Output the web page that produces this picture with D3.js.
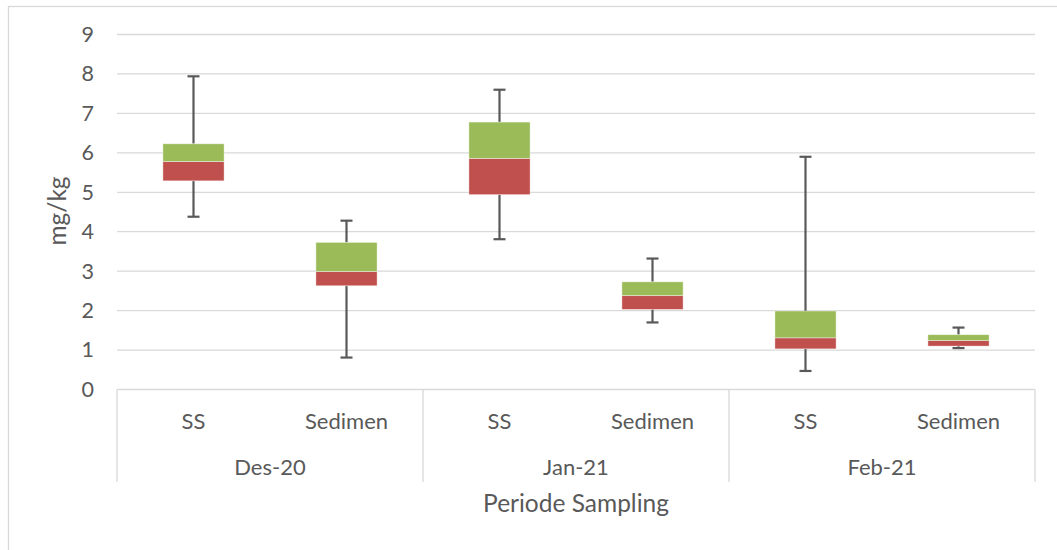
<!DOCTYPE html>
<html>
<head>
<meta charset="utf-8">
<script src="https://cdn.jsdelivr.net/npm/d3@7"></script>
<style>
  html, body { margin: 0; padding: 0; background: #fff; }
  svg { display: block; }
  text { font-family: Lato, "Open Sans", sans-serif; fill: #595959; }
</style>
</head>
<body>
<svg id="chart" width="1057" height="550"></svg>
<script>
// ---- data ----
const periods = ["Des-20", "Jan-21", "Feb-21"];
const types = ["SS", "Sedimen"];
// order: Des-20 SS, Des-20 Sedimen, Jan-21 SS, Jan-21 Sedimen, Feb-21 SS, Feb-21 Sedimen
const whiskerMin = [4.38, 0.81, 3.81, 1.70, 0.47, 1.05];
const q1         = [5.29, 2.63, 4.94, 2.03, 1.03, 1.10];
const median     = [5.78, 2.99, 5.86, 2.38, 1.31, 1.24];
const q3         = [6.23, 3.73, 6.78, 2.73, 1.99, 1.39];
const whiskerMax = [7.94, 4.28, 7.60, 3.32, 5.90, 1.57];
const yTicks = [0, 1, 2, 3, 4, 5, 6, 7, 8, 9];
const yTitle = "mg/kg";
const xTitle = "Periode Sampling";

const rows = [];
periods.forEach((p, i) => types.forEach((t, j) => {
  const k = i * types.length + j;
  rows.push({ period: p, type: t, min: whiskerMin[k], q1: q1[k], med: median[k], q3: q3[k], max: whiskerMax[k] });
}));

// ---- layout ----
const svg = d3.select("#chart");
const plotL = 117, plotR = 1035, plotT = 34.5, plotB = 389.5;
const grid = "#d9d9d9", ink = "#595959";

// outer chart border
svg.append("rect").attr("x", 8.5).attr("y", 6.5).attr("width", 1060).attr("height", 560)
  .attr("fill", "none").attr("stroke", grid).attr("stroke-width", 1.3);

const y = d3.scaleLinear().domain([0, 9]).range([plotB, plotT]);
const xOuter = d3.scaleBand().domain(periods).range([plotL, plotR]).padding(0);
const xInner = d3.scaleBand().domain(types).range([0, xOuter.bandwidth()])
  .paddingInner(0.6).paddingOuter(0.3);

// gridlines
svg.append("g").selectAll("line").data(yTicks.filter(d => d > 0)).join("line")
  .attr("x1", plotL).attr("x2", plotR)
  .attr("y1", d => y(d)).attr("y2", d => y(d))
  .attr("stroke", grid).attr("stroke-width", 1.3);

// y axis labels
const yAxis = d3.axisLeft(y).tickValues(yTicks).tickSize(0).tickPadding(23).tickFormat(d3.format("d"));
const gy = svg.append("g").attr("transform", `translate(${plotL},0)`).call(yAxis);
gy.select(".domain").remove();
gy.selectAll("text").attr("font-size", 21.5).attr("fill", ink)
  .style("font-family", "Lato, 'Open Sans', sans-serif");

// x axis line + dividers
svg.append("line").attr("x1", plotL).attr("x2", plotR).attr("y1", plotB).attr("y2", plotB)
  .attr("stroke", grid).attr("stroke-width", 1.3);
const divs = periods.map(p => xOuter(p)).concat([plotR]);
svg.append("g").selectAll("line").data(divs).join("line")
  .attr("x1", d => d).attr("x2", d => d).attr("y1", plotB).attr("y2", 482)
  .attr("stroke", grid).attr("stroke-width", 1.3);

// sub category labels
svg.append("g").selectAll("text").data(rows).join("text")
  .attr("x", d => xOuter(d.period) + xInner(d.type) + xInner.bandwidth() / 2)
  .attr("y", 429).attr("text-anchor", "middle").attr("font-size", 22)
  .text(d => d.type);
// period labels
svg.append("g").selectAll("text").data(periods).join("text")
  .attr("x", d => xOuter(d) + xOuter.bandwidth() / 2)
  .attr("y", 475).attr("text-anchor", "middle").attr("font-size", 22)
  .text(d => d);

// titles
svg.append("text").attr("x", (plotL + plotR) / 2).attr("y", 512)
  .attr("text-anchor", "middle").attr("font-size", 24.5).text(xTitle);
svg.append("text").attr("transform", "translate(66,211) rotate(-90)")
  .attr("text-anchor", "middle").attr("font-size", 24.5).text(yTitle);

// boxes
const bw = xInner.bandwidth();
const cx = d => xOuter(d.period) + xInner(d.type) + bw / 2;
const g = svg.append("g");

// whiskers
g.selectAll("line.wlow").data(rows).join("line").attr("class", "wlow")
  .attr("x1", cx).attr("x2", cx).attr("y1", d => y(d.q1)).attr("y2", d => y(d.min))
  .attr("stroke", ink).attr("stroke-width", 2.2);
g.selectAll("line.whigh").data(rows).join("line").attr("class", "whigh")
  .attr("x1", cx).attr("x2", cx).attr("y1", d => y(d.q3)).attr("y2", d => y(d.max))
  .attr("stroke", ink).attr("stroke-width", 2.2);
g.selectAll("line.cmin").data(rows).join("line").attr("class", "cmin")
  .attr("x1", d => cx(d) - 6).attr("x2", d => cx(d) + 6)
  .attr("y1", d => y(d.min)).attr("y2", d => y(d.min))
  .attr("stroke", ink).attr("stroke-width", 2.2);
g.selectAll("line.cmax").data(rows).join("line").attr("class", "cmax")
  .attr("x1", d => cx(d) - 6).attr("x2", d => cx(d) + 6)
  .attr("y1", d => y(d.max)).attr("y2", d => y(d.max))
  .attr("stroke", ink).attr("stroke-width", 2.2);

// lower box (red) and upper box (green)
g.selectAll("rect.lo").data(rows).join("rect").attr("class", "lo")
  .attr("x", d => cx(d) - bw / 2).attr("width", bw)
  .attr("y", d => y(d.med)).attr("height", d => y(d.q1) - y(d.med))
  .attr("fill", "#C0504D").attr("stroke", "#ffffff").attr("stroke-opacity", 0.5).attr("stroke-width", 0.8);
g.selectAll("rect.hi").data(rows).join("rect").attr("class", "hi")
  .attr("x", d => cx(d) - bw / 2).attr("width", bw)
  .attr("y", d => y(d.q3)).attr("height", d => y(d.med) - y(d.q3))
  .attr("fill", "#9BBB59").attr("stroke", "#ffffff").attr("stroke-opacity", 0.5).attr("stroke-width", 0.8);
</script>
</body>
</html>
